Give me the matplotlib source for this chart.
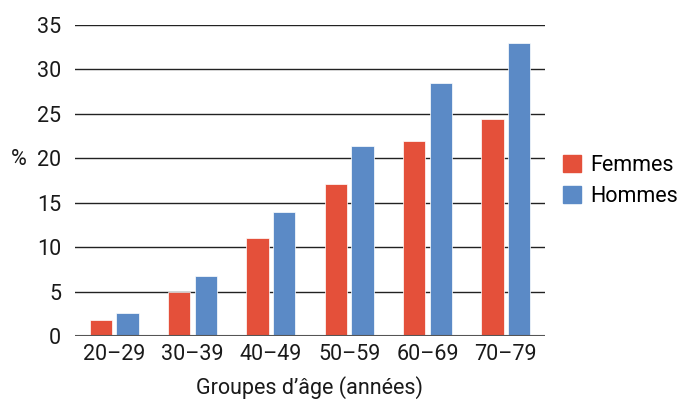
import matplotlib
matplotlib.use("Agg")
import matplotlib.pyplot as plt
import numpy as np
from matplotlib.patches import Patch

categories = ["20–29", "30–39", "40–49", "50–59", "60–69", "70–79"]
femmes = [1.8, 5.0, 11.0, 17.1, 22.0, 24.4]
hommes = [2.6, 6.8, 13.9, 21.4, 28.5, 33.0]
yticks = [0, 5, 10, 15, 20, 25, 30, 35]

plt.rcParams['font.family'] = ['Roboto', 'DejaVu Sans']

red = "#E4503A"
blue = "#5B8AC6"
txt = '#1a1a1a'
fs = 15.5

fig = plt.figure(figsize=(6.77, 4.03), dpi=100)
ax = fig.add_axes([75/677, 1-336/403, 470/677, 311/403])

x = np.arange(len(categories))
w = 0.285
gap = 0.055
ax.bar(x - (w + gap)/2, femmes, width=w, color=red, edgecolor='white', linewidth=0.5, zorder=3, label="Femmes")
ax.bar(x + (w + gap)/2, hommes, width=w, color=blue, edgecolor='white', linewidth=0.5, zorder=3, label="Hommes")

ax.set_xlim(-0.5, len(categories) - 0.5)
ax.set_ylim(0, 35)
ax.set_yticks(yticks)
ax.set_yticklabels([str(t) for t in yticks])
ax.set_xticks(x)
ax.set_xticklabels(categories)
ax.yaxis.grid(True, color='#222222', linewidth=1.0, zorder=0)
ax.set_axisbelow(True)
for s in ax.spines.values():
    s.set_visible(False)
ax.axhline(0, color='#555555', linewidth=1.5, zorder=4)
ax.tick_params(axis='both', length=0, labelsize=fs, colors=txt)
ax.tick_params(axis='y', pad=10)
ax.tick_params(axis='x', pad=6)
ax.set_xlabel("Groupes d’âge (années)", fontsize=fs, color=txt, labelpad=8)
fig.text(19/677, 1-159/403, "%", fontsize=fs, color=txt, ha='center', va='center')

handles = [Patch(color=red, label="Femmes"), Patch(color=blue, label="Hommes")]
fig.legend(handles=handles, loc='center left', bbox_to_anchor=(544/677, 1-181/403),
           frameon=False, fontsize=fs, handlelength=0.8, handleheight=0.8,
           handletextpad=0.45, labelspacing=0.45)

fig.savefig("out.png", dpi=100)
